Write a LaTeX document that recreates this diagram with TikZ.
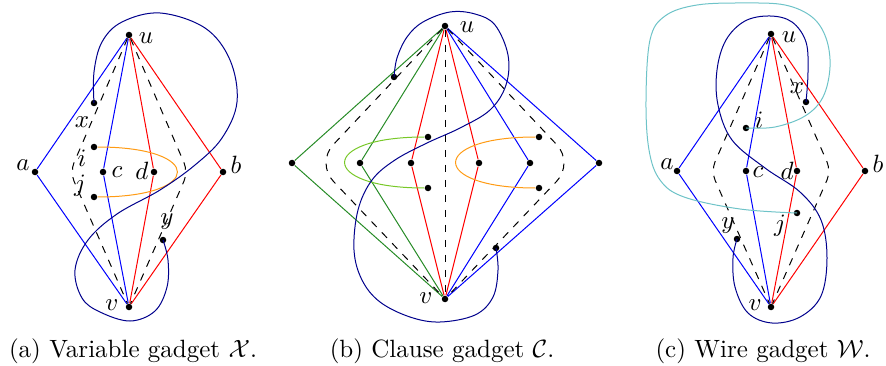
\documentclass[tikz,border=0pt]{standalone}
\usepackage{amsmath, amssymb}
\usepackage{xcolor}
\usepackage{tikz}
\definecolor{GadgetNavy}{RGB}{0,0,140}
\definecolor{GadgetGreen}{RGB}{40,140,40}
\definecolor{GadgetLime}{RGB}{120,200,40}
\definecolor{GadgetOrange}{RGB}{255,155,20}
\definecolor{GadgetTeal}{RGB}{110,195,200}

\begin{document}
\begin{tikzpicture}[
    x=0.4pt, y=-0.4pt,
    vtx/.style={circle, fill=black, inner sep=0pt, minimum size=2.6pt},
    lbl/.style={inner sep=0pt},
    blu/.style={blue},
    rd/.style={red},
    grn/.style={GadgetGreen},
    guide/.style={dashed, rounded corners=4pt},
    wire/.style={GadgetNavy}
]
\useasboundingbox (0,0) rectangle (886,366);

% (a) variable gadget
\node[vtx] (Xu) at (129,35) {};
\node[vtx] (Xv) at (129,307) {};
\node[vtx] (Xa) at (35,172) {};
\node[vtx] (Xb) at (223,172) {};
\node[vtx] (Xc) at (103,172) {};
\node[vtx] (Xd) at (154,172) {};
\node[vtx] (Xx) at (94,103) {};
\node[vtx] (Xi) at (94,147) {};
\node[vtx] (Xj) at (94,197) {};
\node[vtx] (Xy) at (163,240) {};
\node[lbl] (XuL) at (146,38) {$u$};
\node[lbl] (XvL) at (112,305) {$v$};
\node[lbl] (XaL) at (23,165) {$a$};
\node[lbl] (XbL) at (236,165) {$b$};
\node[lbl] (XcL) at (117,172) {$c$};
\node[lbl] (XdL) at (142,171) {$d$};
\node[lbl] (XxL) at (82,122) {$x$};
\node[lbl] (XiL) at (82,158) {$i$};
\node[lbl] (XjL) at (80,186) {$j$};
\node[lbl] (XyL) at (167,222) {$y$};
\coordinate (Xl) at (70,172);
\coordinate (Xr) at (188,172);
\draw[blu] (Xa) -- (Xu) (Xa) -- (Xv) (Xc) -- (Xu) (Xc) -- (Xv);
\draw[rd] (Xb) -- (Xu) (Xb) -- (Xv) (Xd) -- (Xu) (Xd) -- (Xv);
\draw[guide] (Xu) -- (Xl) -- (Xv);
\draw[guide] (Xu) -- (Xr) -- (Xv);
\draw[GadgetOrange] (Xi) .. controls +(110,0) and +(110,0) .. (Xj);
\draw[wire] plot[smooth, tension=0.6] coordinates {(Xx) (94,72) (102,42) (122,22) (160,13) (205,28) (230,60) (237,102) (222,138) (195,165) (160,190) (117,214) (88,240) (75,270) (82,298) (100,312) (130,321) (155,311) (167,287) (168,260) (Xy)};

% (b) clause gadget
\node[vtx] (Cu) at (445,26) {};
\node[vtx] (Cv) at (445,299) {};
\node[lbl] (CuL) at (467,27) {$u$};
\node[lbl] (CvL) at (426,298) {$v$};
\node[vtx] (Cfl) at (292,163) {};
\node[vtx] (Cgl) at (360,163) {};
\node[vtx] (Crl) at (411,163) {};
\node[vtx] (Crr) at (479,163) {};
\node[vtx] (Cbl) at (530,163) {};
\node[vtx] (Cfr) at (599,163) {};
\node[vtx] (Cg1) at (428,137) {};
\node[vtx] (Cg2) at (428,188) {};
\node[vtx] (Co1) at (539,137) {};
\node[vtx] (Co2) at (539,188) {};
\node[vtx] (Cn1) at (394,77) {};
\node[vtx] (Cn2) at (496,248) {};
\coordinate (Cl) at (316,163);
\coordinate (Cr) at (574,163);
\draw[grn] (Cfl) -- (Cu) (Cfl) -- (Cv) (Cgl) -- (Cu) (Cgl) -- (Cv);
\draw[rd] (Crl) -- (Cu) (Crl) -- (Cv) (Crr) -- (Cu) (Crr) -- (Cv);
\draw[blu] (Cbl) -- (Cu) (Cbl) -- (Cv) (Cfr) -- (Cu) (Cfr) -- (Cv);
\draw[dashed] (Cu) -- (Cv);
\draw[guide, rounded corners=10pt] (Cu) -- (Cl) -- (Cv);
\draw[guide, rounded corners=10pt] (Cu) -- (Cr) -- (Cv);
\draw[GadgetLime] (Cg1) .. controls +(-110,0) and +(-110,0) .. (Cg2);
\draw[GadgetOrange] (Co1) .. controls +(-110,0) and +(-110,0) .. (Co2);
\draw[wire] plot[smooth, tension=0.6] coordinates {(Cn1) (397,58) (407,37) (423,22) (450,12) (475,14) (495,25) (508,55) (506,85) (490,110) (460,128) (427,143) (395,160) (372,180) (358,210) (354,250) (362,280) (380,302) (410,317) (440,322) (475,315) (493,297) (498,270) (Cn2)};

% (c) wire gadget
\node[vtx] (Wu) at (771,34) {};
\node[vtx] (Wv) at (771,307) {};
\node[vtx] (Wa) at (677,171) {};
\node[vtx] (Wb) at (865,171) {};
\node[vtx] (Wc) at (746,171) {};
\node[vtx] (Wd) at (797,171) {};
\node[vtx] (Wx) at (806,102) {};
\node[vtx] (Wi) at (746,128) {};
\node[vtx] (Wj) at (797,213) {};
\node[vtx] (Wy) at (737,239) {};
\node[lbl] (WuL) at (789,37) {$u$};
\node[lbl] (WvL) at (755,305) {$v$};
\node[lbl] (WaL) at (667,164) {$a$};
\node[lbl] (WbL) at (878,164) {$b$};
\node[lbl] (WcL) at (758,172) {$c$};
\node[lbl] (WdL) at (787,171) {$d$};
\node[lbl] (WxL) at (797,88) {$x$};
\node[lbl] (WiL) at (759,120) {$i$};
\node[lbl] (WjL) at (780,226) {$j$};
\node[lbl] (WyL) at (728,226) {$y$};
\coordinate (Wl) at (711,171);
\coordinate (Wr) at (831,171);
\draw[blu] (Wa) -- (Wu) (Wa) -- (Wv) (Wc) -- (Wu) (Wc) -- (Wv);
\draw[rd] (Wb) -- (Wu) (Wb) -- (Wv) (Wd) -- (Wu) (Wd) -- (Wv);
\draw[guide] (Wu) -- (Wl) -- (Wv);
\draw[guide] (Wu) -- (Wr) -- (Wv);
\draw[GadgetTeal] plot[smooth, tension=0.6] coordinates {(Wi) (775,127) (805,116) (823,97) (830,67) (826,38) (812,17) (785,5) (745,3) (697,5) (665,16) (650,40) (646,100) (649,150) (660,180) (684,197) (740,209) (Wj)};
\draw[wire] plot[smooth, tension=0.6] coordinates {(Wx) (808,72) (806,42) (792,22) (770,16) (745,21) (726,40) (717,70) (718,105) (732,140) (765,168) (800,192) (821,220) (827,258) (821,296) (800,317) (772,323) (748,313) (735,287) (733,258) (Wy)};

% captions
\node (capX) at (133,351) {(a) Variable gadget $\mathcal{X}$.};
\node (capC) at (442,351) {(b) Clause gadget $\mathcal{C}$.};
\node (capW) at (763,351) {(c) Wire gadget $\mathcal{W}$.};
\end{tikzpicture}
\end{document}
